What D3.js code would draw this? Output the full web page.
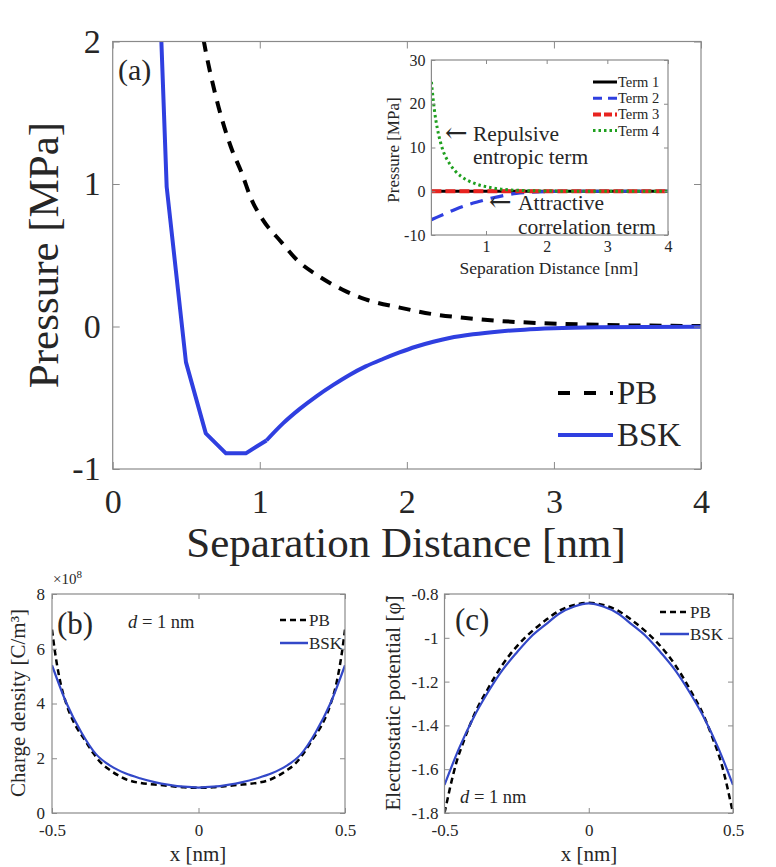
<!DOCTYPE html>
<html><head><meta charset="utf-8">
<script src="https://cdn.jsdelivr.net/npm/d3@7"></script>
<style>
html,body{margin:0;padding:0;background:#fff;}
svg{display:block;}
</style></head>
<body>
<script>
// ---------- DATA ----------
// (a) main pressure plot
const pbX  = [0.55,0.62,0.7,0.8,0.88,0.94,1.02,1.14,1.26,1.40,1.56,1.72,1.95,2.18,2.4,2.63,2.9,3.2,3.5,3.8,4.0];
const pbY  = [2.45,2.0,1.62,1.27,1.07,0.90,0.75,0.60,0.46,0.354,0.26,0.19,0.133,0.086,0.06,0.039,0.024,0.014,0.008,0.005,0.003];
const bskX = [0.232,0.367,0.498,0.633,0.77,0.905,1.045,1.158,1.27,1.385,1.5,1.61,1.72,1.837,1.95,2.06,2.18,2.29,2.45,2.63,2.8,3.0,3.3,3.6,4.0];
const bskY = [4.8,0.98,-0.25,-0.75,-0.89,-0.89,-0.80,-0.68,-0.58,-0.49,-0.41,-0.34,-0.28,-0.228,-0.182,-0.142,-0.107,-0.081,-0.055,-0.035,-0.022,-0.013,-0.006,-0.003,-0.001];
const bskCoarseEnd = 6; // samples 0..6 are coarse (straight segments), the rest are dense
const mainXTicks = [0,1,2,3,4];
const mainYTicks = [-1,0,1,2];
const mainLegend = ["PB","BSK"];

// inset: pressure terms
const term1X = [0.1,4];
const term1Y = [0,0];
const term2X = [0.1,0.3,0.5,0.7,0.9,1.1,1.3,1.5,1.7,2.0,2.5,3,3.5,4];
const term2Y = [-6.5,-5.3,-4.1,-3.1,-2.3,-1.55,-0.95,-0.5,-0.25,-0.08,-0.01,0,0,0];
const term3X = [0.1,4];
const term3Y = [0,0];
const term4X = [0.1,0.15,0.2,0.25,0.3,0.4,0.5,0.6,0.7,0.8,0.9,1.0,1.2,1.4,1.6,1.8,2.0,2.5,3,3.5,4];
const term4Y = [25,18.5,14.2,11.2,9.0,6.3,4.5,3.3,2.45,1.85,1.38,1.05,0.55,0.3,0.17,0.09,0.05,0.01,0,0,0];
const insetXTicks = [1,2,3,4];
const insetYTicks = [-10,0,10,20,30];
const insetLegend = ["Term 1","Term 2","Term 3","Term 4"];

// (b) charge density (x 1e8 C/m^3)
const rhoBskX = [-0.5,-0.45,-0.4,-0.35,-0.3,-0.25,-0.2,-0.15,-0.1,-0.05,0,0.05,0.1,0.15,0.2,0.25,0.3,0.35,0.4,0.45,0.5];
const rhoBskY = [5.4,4.0,2.95,2.15,1.72,1.45,1.27,1.13,1.03,0.96,0.93,0.96,1.03,1.13,1.27,1.45,1.72,2.15,2.95,4.0,5.4];
const rhoPbX  = [-0.5,-0.49,-0.47,-0.45,-0.42,-0.39,-0.36,-0.33,-0.3,-0.27,-0.24,-0.2,-0.15,-0.1,-0.05,0,0.05,0.1,0.15,0.2,0.24,0.27,0.3,0.33,0.36,0.39,0.42,0.45,0.47,0.49,0.5];
const rhoPbY  = [6.7,5.9,4.7,3.95,3.2,2.7,2.2,1.8,1.55,1.35,1.2,1.1,1.04,0.99,0.94,0.92,0.94,0.99,1.04,1.1,1.2,1.35,1.55,1.8,2.2,2.7,3.2,3.95,4.7,5.9,6.7];
const bXTicks = [-0.5,0,0.5];
const bYTicks = [0,2,4,6,8];

// (c) electrostatic potential
const phiBskX = [-0.5,-0.45,-0.4,-0.35,-0.3,-0.25,-0.2,-0.15,-0.1,-0.05,0,0.05,0.1,0.15,0.2,0.25,0.3,0.35,0.4,0.45,0.5];
const phiBskY = [-1.672,-1.506,-1.366,-1.25,-1.149,-1.068,-0.995,-0.94,-0.888,-0.857,-0.843,-0.857,-0.888,-0.94,-0.995,-1.068,-1.149,-1.25,-1.366,-1.506,-1.672];
const phiPbX  = [-0.5,-0.49,-0.48,-0.46,-0.43,-0.4,-0.35,-0.3,-0.25,-0.2,-0.15,-0.1,-0.05,0,0.05,0.1,0.15,0.2,0.25,0.3,0.35,0.4,0.43,0.46,0.48,0.49,0.5];
const phiPbY  = [-1.8,-1.74,-1.68,-1.575,-1.46,-1.36,-1.234,-1.125,-1.04,-0.974,-0.92,-0.875,-0.85,-0.84,-0.85,-0.875,-0.92,-0.974,-1.04,-1.125,-1.234,-1.36,-1.46,-1.575,-1.68,-1.74,-1.8];
const cXTicks = [-0.5,0,0.5];
const cYTicks = [-1.8,-1.6,-1.4,-1.2,-1,-0.8];

// ---------- DRAW ----------
const W = 776, H = 867;
const SERIF = '"Liberation Serif","Times New Roman",serif';
const svg = d3.select("body").append("svg").attr("width", W).attr("height", H)
  .style("font-family", SERIF);
svg.append("rect").attr("width", W).attr("height", H).attr("fill", "#fff");

const FRAME = "#8a8a8a";
const INK = "#262626";
const BLUE = "#2f3fe0";
const BLUE2 = "#3348c8";

function zip(xs, ys){ return xs.map((x,i)=>[x, ys[i]]); }

function frameAxes(g, x, y, o){
  const [x0,x1] = x.range(), [y0,y1] = y.range();
  const fmt = d => String(d);
  const style = (sel, fs) => {
    sel.attr("font-family", null);
    sel.select(".domain").remove();
    sel.selectAll(".tick line").attr("stroke", FRAME).attr("stroke-width", 1);
    sel.selectAll(".tick text").style("font-family", SERIF).attr("font-size", fs).attr("fill", INK);
  };
  g.append("g").attr("transform", `translate(0,${y0})`)
    .call(d3.axisBottom(x).tickValues(o.xt).tickSizeInner(-o.tl).tickSizeOuter(0).tickPadding(o.xpad).tickFormat(fmt))
    .call(s => style(s, o.fs));
  g.append("g").attr("transform", `translate(${x0},0)`)
    .call(d3.axisLeft(y).tickValues(o.yt).tickSizeInner(-o.tl).tickSizeOuter(0).tickPadding(o.ypad).tickFormat(fmt))
    .call(s => style(s, o.fs));
  g.append("g").attr("transform", `translate(0,${y1})`)
    .call(d3.axisTop(x).tickValues(o.xt).tickSizeInner(-o.tl).tickSizeOuter(0).tickFormat(""))
    .call(s => style(s, o.fs));
  g.append("g").attr("transform", `translate(${x1},0)`)
    .call(d3.axisRight(y).tickValues(o.yt).tickSizeInner(-o.tl).tickSizeOuter(0).tickFormat(""))
    .call(s => style(s, o.fs));
  g.append("rect").attr("x", x0).attr("y", y1).attr("width", x1-x0).attr("height", y0-y1)
    .attr("fill", "none").attr("stroke", FRAME).attr("stroke-width", 1.2);
}

function clipFor(id, x, y){
  const [x0,x1] = x.range(), [y0,y1] = y.range();
  svg.append("clipPath").attr("id", id).append("rect")
    .attr("x", x0).attr("y", y1).attr("width", x1-x0).attr("height", y0-y1);
  return `url(#${id})`;
}

function drawLine(g, x, y, xs, ys, stroke, width, dash, clip, curve){
  const line = d3.line().x(d=>x(d[0])).y(d=>y(d[1])).curve(curve || d3.curveLinear);
  return g.append("path").datum(zip(xs, ys)).attr("d", line)
    .attr("fill","none").attr("stroke", stroke).attr("stroke-width", width)
    .attr("stroke-dasharray", dash || null).attr("stroke-linejoin","round")
    .attr("clip-path", clip || null);
}
function txt(g, x, y, size, s, anchor){
  return g.append("text").attr("x", x).attr("y", y).attr("font-size", size)
    .attr("fill", INK).attr("text-anchor", anchor || "start").text(s);
}

// ===== (a) main =====
const ax = d3.scaleLinear([0,4],[112.7,701]);
const ay = d3.scaleLinear([-1,2],[469,41.5]);
const ga = svg.append("g");
const clipA = clipFor("clipA", ax, ay);
drawLine(ga, ax, ay, pbX, pbY, "#000", 4, "12,9", clipA, d3.curveMonotoneX);
// coarse part of BSK (straight segments), then dense smooth part
drawLine(ga, ax, ay, bskX.slice(0, bskCoarseEnd+1), bskY.slice(0, bskCoarseEnd+1), BLUE, 4, null, clipA);
drawLine(ga, ax, ay, bskX.slice(bskCoarseEnd), bskY.slice(bskCoarseEnd), BLUE, 4, null, clipA, d3.curveMonotoneX);
frameAxes(ga, ax, ay, {xt: mainXTicks, yt: mainYTicks, tl: 7, fs: 34, xpad: 20, ypad: 12});
txt(ga, 118, 80, 30, "(a)");
txt(ga, 406, 557, 43, "Separation Distance [nm]", "middle");
ga.append("text").attr("transform","translate(58,255) rotate(-90)").attr("text-anchor","middle")
  .attr("font-size", 43).attr("fill", INK).text("Pressure [MPa]");
// legend (a)
const legA = [{name: mainLegend[0], color:"#000", dash:"12,14", y:393},{name: mainLegend[1], color:BLUE, dash:null, y:435}];
legA.forEach(d=>{
  ga.append("line").attr("x1",558).attr("x2",613).attr("y1",d.y).attr("y2",d.y)
    .attr("stroke",d.color).attr("stroke-width",4).attr("stroke-dasharray",d.dash);
  txt(ga, 617, d.y+11, 33, d.name);
});

// ===== inset =====
const ix = d3.scaleLinear([0.1,4],[431.4,668]);
const iy = d3.scaleLinear([-10,30],[235,60]);
const gi = svg.append("g");
gi.append("rect").attr("x",431.4).attr("y",60).attr("width",668-431.4).attr("height",175).attr("fill","#fff");
const clipI = clipFor("clipI", ix, iy);
drawLine(gi, ix, iy, term1X, term1Y, "#000", 3, null, clipI);
drawLine(gi, ix, iy, term2X, term2Y, BLUE, 3.2, "13,8", clipI, d3.curveMonotoneX);
drawLine(gi, ix, iy, term3X, term3Y, "#e8231f", 4, "10,4", clipI);
drawLine(gi, ix, iy, term4X, term4Y, "#1fa01f", 3, "2.5,3", clipI, d3.curveMonotoneX);
frameAxes(gi, ix, iy, {xt: insetXTicks, yt: insetYTicks, tl: 4, fs: 16, xpad: 6, ypad: 6});
txt(gi, 549, 274, 17.5, "Separation Distance [nm]", "middle");
gi.append("text").attr("transform","translate(399,150) rotate(-90)").attr("text-anchor","middle")
  .attr("font-size",17).attr("fill", INK).text("Pressure [MPa]");
const legI = [
  {name: insetLegend[0], color:"#000", dash:null, w:3},
  {name: insetLegend[1], color:BLUE, dash:"9,6", w:3},
  {name: insetLegend[2], color:"#e8231f", dash:"8,3", w:4},
  {name: insetLegend[3], color:"#1fa01f", dash:"2.5,3", w:3}];
legI.forEach((d,i)=>{
  const yy = 82 + i*16.2;
  gi.append("line").attr("x1",593).attr("x2",617).attr("y1",yy).attr("y2",yy)
    .attr("stroke",d.color).attr("stroke-width",d.w).attr("stroke-dasharray",d.dash);
  txt(gi, 618, yy+5, 14.5, d.name);
});
// annotations
txt(gi, 445, 142, 27, "\u2190").style("font-family", '"DejaVu Serif",serif');
txt(gi, 473, 141, 21.5, "Repulsive");
txt(gi, 473, 164, 21.5, "entropic term");
txt(gi, 489, 211, 27, "\u2190").style("font-family", '"DejaVu Serif",serif');
txt(gi, 518, 210, 21.5, "Attractive");
txt(gi, 518, 234, 21.5, "correlation term");

// ===== (b) =====
const bx = d3.scaleLinear([-0.5,0.5],[52,345]);
const by = d3.scaleLinear([0,8],[813,594]);
const gb = svg.append("g");
const clipB = clipFor("clipB", bx, by);
drawLine(gb, bx, by, rhoPbX, rhoPbY, "#000", 2.5, "6,4", clipB, d3.curveMonotoneX);
drawLine(gb, bx, by, rhoBskX, rhoBskY, BLUE2, 2.2, null, clipB, d3.curveMonotoneX);
frameAxes(gb, bx, by, {xt: bXTicks, yt: bYTicks, tl: 5, fs: 17, xpad: 11, ypad: 7});
const e8 = txt(gb, 53, 584, 15, "");
e8.append("tspan").text("\u00d710");
e8.append("tspan").attr("dy",-6).attr("font-size",11).text("8");
txt(gb, 57, 634, 31, "(b)");
const db = txt(gb, 128, 628, 18.5, "");
db.append("tspan").attr("font-style","italic").text("d");
db.append("tspan").text(" = 1 nm");
txt(gb, 198, 861, 21, "x [nm]", "middle");
gb.append("text").attr("transform","translate(25,703) rotate(-90)").attr("text-anchor","middle")
  .attr("font-size",21).attr("fill", INK).text("Charge density [C/m\u00b3]");
const legB = [{name: mainLegend[0], color:"#000", dash:"6,4", y:620},{name: mainLegend[1], color:BLUE2, dash:null, y:643}];
legB.forEach(d=>{
  gb.append("line").attr("x1",280).attr("x2",308).attr("y1",d.y).attr("y2",d.y)
    .attr("stroke",d.color).attr("stroke-width",2.5).attr("stroke-dasharray",d.dash);
  txt(gb, 309, d.y+6, 17, d.name);
});

// ===== (c) =====
const cx = d3.scaleLinear([-0.5,0.5],[444.5,733]);
const cy = d3.scaleLinear([-1.8,-0.8],[813,594]);
const gc = svg.append("g");
const clipC = clipFor("clipC", cx, cy);
drawLine(gc, cx, cy, phiPbX, phiPbY, "#000", 2.5, "6,4", clipC, d3.curveMonotoneX);
drawLine(gc, cx, cy, phiBskX, phiBskY, BLUE2, 2.2, null, clipC, d3.curveMonotoneX);
frameAxes(gc, cx, cy, {xt: cXTicks, yt: cYTicks, tl: 5, fs: 17, xpad: 11, ypad: 6});
txt(gc, 455, 630, 31, "(c)");
const dc = txt(gc, 460, 803, 18.5, "");
dc.append("tspan").attr("font-style","italic").text("d");
dc.append("tspan").text(" = 1 nm");
txt(gc, 589, 861, 21, "x [nm]", "middle");
gc.append("text").attr("transform","translate(400,703) rotate(-90)").attr("text-anchor","middle")
  .attr("font-size",21).attr("fill", INK).text("Electrostatic potential [\u03c6\u0303]");
const legC = [{name: mainLegend[0], color:"#000", dash:"6,4", y:612},{name: mainLegend[1], color:BLUE2, dash:null, y:634}];
legC.forEach(d=>{
  gc.append("line").attr("x1",660).attr("x2",689).attr("y1",d.y).attr("y2",d.y)
    .attr("stroke",d.color).attr("stroke-width",2.5).attr("stroke-dasharray",d.dash);
  txt(gc, 690, d.y+6, 17, d.name);
});
</script>
</body></html>
